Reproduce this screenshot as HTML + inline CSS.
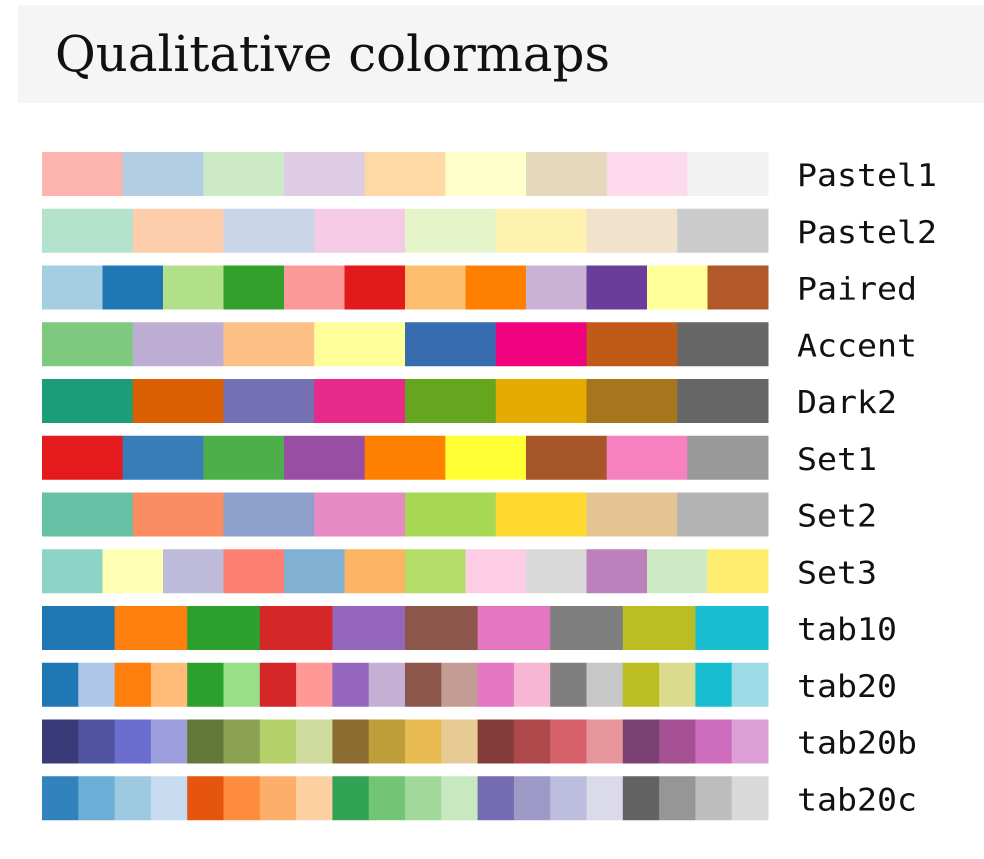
<!DOCTYPE html>
<html><head><meta charset="utf-8"><style>
html,body{margin:0;padding:0;background:#fff;width:984px;height:859px;overflow:hidden}
#hdr{position:absolute;left:18px;top:5px;width:966px;height:98px;background:#f5f5f5}
svg{position:absolute;left:0;top:0}
</style></head><body>
<div id="hdr"></div>
<svg id="chart" width="984" height="859">
<text x="55" y="71" font-family="'DejaVu Serif',serif" font-size="50" fill="#111" textLength="555" lengthAdjust="spacingAndGlyphs">Qualitative colormaps</text>
</svg>
<script>
const names=["Pastel1","Pastel2","Paired","Accent","Dark2","Set1","Set2","Set3","tab10","tab20","tab20b","tab20c"];
const pastel1=["#fbb4ae","#b3cde3","#ccebc5","#decbe4","#fed9a6","#ffffcc","#e5d8bd","#fddaec","#f2f2f2"];
const pastel2=["#b3e2cd","#fdcdac","#cbd5e8","#f4cae4","#e6f5c9","#fff2ae","#f1e2cc","#cccccc"];
const paired=["#a6cee3","#1f78b4","#b2df8a","#33a02c","#fb9a99","#e31a1c","#fdbf6f","#ff7f00","#cab2d6","#6a3d9a","#ffff99","#b15928"];
const accent=["#7fc97f","#beaed4","#fdc086","#ffff99","#386cb0","#f0027f","#bf5b17","#666666"];
const dark2=["#1b9e77","#d95f02","#7570b3","#e7298a","#66a61e","#e6ab02","#a6761d","#666666"];
const set1=["#e41a1c","#377eb8","#4daf4a","#984ea3","#ff7f00","#ffff33","#a65628","#f781bf","#999999"];
const set2=["#66c2a5","#fc8d62","#8da0cb","#e78ac3","#a6d854","#ffd92f","#e5c494","#b3b3b3"];
const set3=["#8dd3c7","#ffffb3","#bebada","#fb8072","#80b1d3","#fdb462","#b3de69","#fccde5","#d9d9d9","#bc80bd","#ccebc5","#ffed6f"];
const tab10=["#1f77b4","#ff7f0e","#2ca02c","#d62728","#9467bd","#8c564b","#e377c2","#7f7f7f","#bcbd22","#17becf"];
const tab20=["#1f77b4","#aec7e8","#ff7f0e","#ffbb78","#2ca02c","#98df8a","#d62728","#ff9896","#9467bd","#c5b0d5","#8c564b","#c49c94","#e377c2","#f7b6d2","#7f7f7f","#c7c7c7","#bcbd22","#dbdb8d","#17becf","#9edae5"];
const tab20b=["#393b79","#5254a3","#6b6ecf","#9c9ede","#637939","#8ca252","#b5cf6b","#cedb9c","#8c6d31","#bd9e39","#e7ba52","#e7cb94","#843c39","#ad494a","#d6616b","#e7969c","#7b4173","#a55194","#ce6dbd","#de9ed6"];
const tab20c=["#3182bd","#6baed6","#9ecae1","#c6dbef","#e6550d","#fd8d3c","#fdae6b","#fdd0a2","#31a354","#74c476","#a1d99b","#c7e9c0","#756bb1","#9e9ac8","#bcbddc","#dadaeb","#636363","#969696","#bdbdbd","#d9d9d9"];
const maps=[pastel1,pastel2,paired,accent,dark2,set1,set2,set3,tab10,tab20,tab20b,tab20c];
const svg=document.getElementById('chart');
const NS='http://www.w3.org/2000/svg';
const x0=42,x1=768,y0=152,pitch=56.75,h=44;
function yPos(i){return y0+i*pitch;}
names.forEach((n,i)=>{
  const cols=maps[i];const w=(x1-x0)/cols.length;
  cols.forEach((c,j)=>{
    const r=document.createElementNS(NS,'rect');
    r.setAttribute('x',x0+j*w);r.setAttribute('y',yPos(i));
    r.setAttribute('width',w+0.5);r.setAttribute('height',h);r.setAttribute('fill',c);
    
    
    svg.appendChild(r);
  });
  const t=document.createElementNS(NS,'text');
  t.setAttribute('x',797);t.setAttribute('y',yPos(i)+h/2+12);
  t.setAttribute('font-family','"DejaVu Sans Mono","Liberation Mono",monospace');t.setAttribute('font-size','31');t.setAttribute('fill','#111');
  t.setAttribute('textLength',n.length*20);t.setAttribute('lengthAdjust','spacingAndGlyphs');
  t.textContent=n;
  
  
  svg.appendChild(t);
});
</script>
</body></html>
